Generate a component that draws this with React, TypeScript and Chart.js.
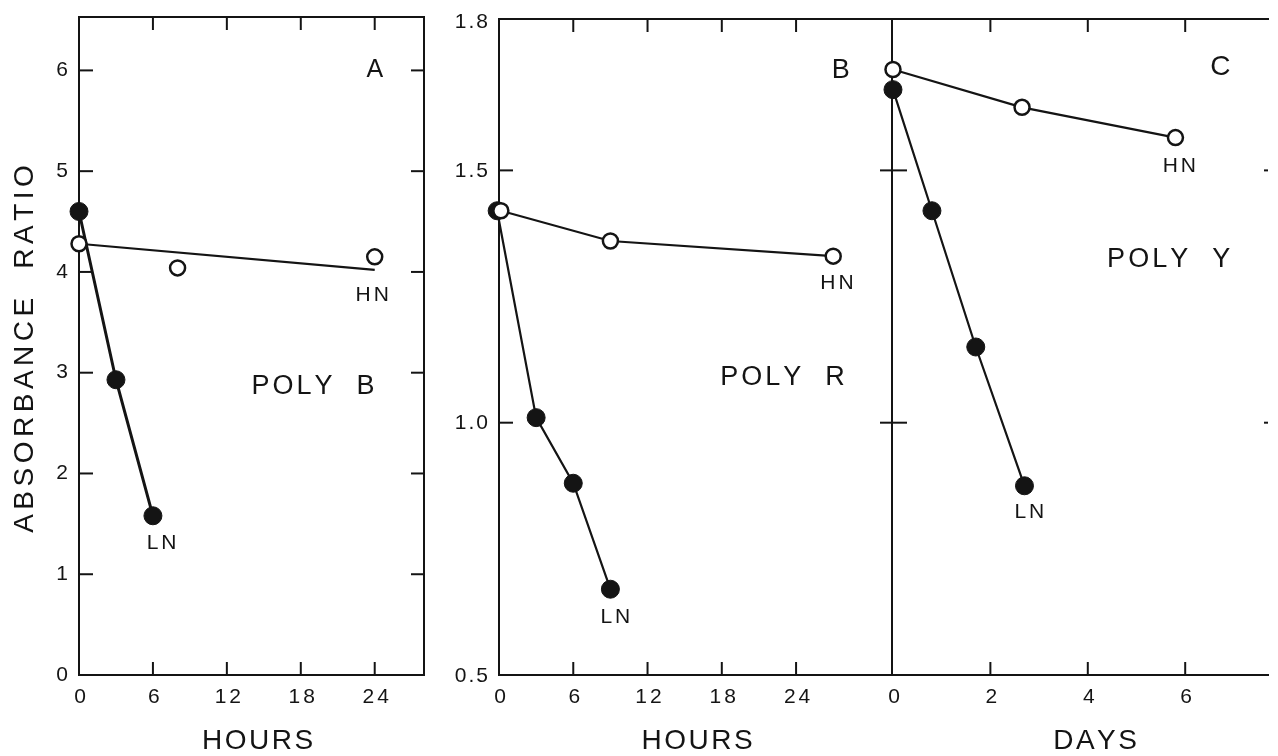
import React, { useEffect, useRef } from "react";
import { Chart, registerables } from "chart.js";

Chart.register(...registerables);

const W = 1278;
const H = 756;
const INK = "#141414";
const FONT = "'Liberation Sans', Arial, sans-serif";

// Panel A — POLY B, time in hours
const hoursA_LN = [0, 3, 6];
const ratioA_LN = [4.6, 2.93, 1.58];
const hoursA_HN = [0, 8, 24];
const ratioA_HN = [4.28, 4.04, 4.15];
const hoursA_HNfit = [0, 24];
const ratioA_HNfit = [4.28, 4.02];

// Panel B — POLY R, time in hours
const hoursB_LN = [-0.15, 3, 6, 9];
const ratioB_LN = [1.42, 1.01, 0.88, 0.67];
const hoursB_HN = [0.15, 9, 27];
const ratioB_HN = [1.42, 1.36, 1.33];

// Panel C — POLY Y, time in days
const daysC_LN = [0, 0.8, 1.7, 2.7];
const ratioC_LN = [1.66, 1.42, 1.15, 0.875];
const daysC_HN = [0, 2.65, 5.8];
const ratioC_HN = [1.7, 1.625, 1.565];

// Tick values and labels
const hourTicks = [0, 6, 12, 18, 24];
const dayTicks = [0, 2, 4, 6];
const ratioTicksA = [0, 1, 2, 3, 4, 5, 6];
const ratioTicksB = [0.5, 1.0, 1.5, 1.8];
const ratioTickLabelsB = ["0.5", "1.0", "1.5", "1.8"];

type Pt = { x: number; y: number };
const pts = (xs: number[], ys: number[]): Pt[] => xs.map((x, i) => ({ x, y: ys[i] }));

interface Note {
  text: string;
  x: number;
  y: number;
  size: number;
  spacing: number;
}

interface PanelSpec {
  pad: { left: number; top: number; right: number; bottom: number };
  xMin: number;
  xMax: number;
  yMin: number;
  yMax: number;
  sides: { left?: boolean; right?: boolean; top?: boolean; bottom?: boolean };
  xMarks: number[];
  yLeftMarks: number[];
  yLeftCross?: boolean;
  yRightMarks: number[];
  yRightLen: number;
  xLabels: { v: number; t: string }[];
  yLabels: { v: number; t: string; dy?: number }[];
  xTitle: { text: string; at: number };
  notes: Note[];
  yTitle?: boolean;
  datasets: any[];
}

function spaced(
  ctx: CanvasRenderingContext2D,
  text: string,
  x: number,
  y: number,
  spacing: number,
  align: "left" | "center" | "right"
) {
  const chars = Array.from(text);
  const widths = chars.map((c) => ctx.measureText(c).width);
  const total = widths.reduce((a, b) => a + b, 0) + spacing * (chars.length - 1);
  let cx = align === "center" ? x - total / 2 : align === "right" ? x - total : x;
  ctx.textAlign = "left";
  chars.forEach((c, i) => {
    ctx.fillText(c, cx, y);
    cx += widths[i] + spacing;
  });
}

function framePlugin(spec: PanelSpec) {
  return {
    id: "frame",
    beforeDatasetsDraw(chart: any) {
      const ctx: CanvasRenderingContext2D = chart.ctx;
      const { left, right, top, bottom } = chart.chartArea;
      const xs = chart.scales.x;
      const ys = chart.scales.y;
      ctx.save();
      ctx.strokeStyle = INK;
      ctx.lineWidth = 2;
      ctx.lineCap = "square";
      const line = (x1: number, y1: number, x2: number, y2: number) => {
        ctx.beginPath();
        ctx.moveTo(x1, y1);
        ctx.lineTo(x2, y2);
        ctx.stroke();
      };
      if (spec.sides.left) line(left, top, left, bottom);
      if (spec.sides.right) line(right, top, right, bottom);
      if (spec.sides.top) line(left, top, right, top);
      if (spec.sides.bottom) line(left, bottom, right, bottom);
      ctx.lineCap = "butt";
      spec.xMarks.forEach((v) => {
        const px = xs.getPixelForValue(v);
        line(px, top, px, top + 13);
        line(px, bottom, px, bottom - 13);
      });
      spec.yLeftMarks.forEach((v) => {
        const py = ys.getPixelForValue(v);
        if (spec.yLeftCross) line(left - 12, py, left + 15, py);
        else line(left, py, left + 14, py);
      });
      spec.yRightMarks.forEach((v) => {
        const py = ys.getPixelForValue(v);
        line(right, py, right - spec.yRightLen, py);
      });
      ctx.restore();
    },
    afterDraw(chart: any) {
      const ctx: CanvasRenderingContext2D = chart.ctx;
      const { left, bottom } = chart.chartArea;
      const xs = chart.scales.x;
      const ys = chart.scales.y;
      ctx.save();
      ctx.fillStyle = INK;
      ctx.textBaseline = "middle";
      ctx.font = `21px ${FONT}`;
      spec.xLabels.forEach(({ v, t }) => {
        spaced(ctx, t, xs.getPixelForValue(v) + 1, bottom + 22, 3, "center");
      });
      ctx.font = `21px ${FONT}`;
      spec.yLabels.forEach(({ v, t, dy }) => {
        spaced(ctx, t, left - 11, ys.getPixelForValue(v) + (dy || 0), 2, "right");
      });
      ctx.font = `28px ${FONT}`;
      spaced(ctx, spec.xTitle.text, xs.getPixelForValue(spec.xTitle.at), bottom + 66, 2.5, "center");
      spec.notes.forEach((n) => {
        ctx.font = `${n.size}px ${FONT}`;
        spaced(ctx, n.text, xs.getPixelForValue(n.x), ys.getPixelForValue(n.y), n.spacing, "center");
      });
      if (spec.yTitle) {
        ctx.save();
        ctx.translate(25, 349);
        ctx.rotate(-Math.PI / 2);
        ctx.font = `28px ${FONT}`;
        spaced(ctx, "ABSORBANCE  RATIO", 0, 0, 4.5, "center");
        ctx.restore();
      }
      ctx.restore();
    },
  };
}

const lnStyle = (width: number) => ({
  showLine: true,
  borderColor: INK,
  borderWidth: width,
  pointRadius: 9,
  pointBackgroundColor: INK,
  pointBorderColor: INK,
  pointBorderWidth: 1,
  clip: false,
});

const hnStyle = {
  showLine: true,
  borderColor: INK,
  borderWidth: 2.2,
  pointRadius: 7.5,
  pointBackgroundColor: "#ffffff",
  pointBorderColor: INK,
  pointBorderWidth: 2.5,
  clip: false,
};

const panels: PanelSpec[] = [
  {
    pad: { left: 79, top: 17, right: W - 424, bottom: H - 675 },
    xMin: 0,
    xMax: 28,
    yMin: 0,
    yMax: 6.53,
    sides: { left: true, right: true, top: true, bottom: true },
    xMarks: [6, 12, 18, 24],
    yLeftMarks: [1, 2, 3, 4, 5, 6],
    yRightMarks: [1, 2, 3, 4, 5, 6],
    yRightLen: 13,
    xLabels: hourTicks.map((v) => ({ v, t: String(v) })),
    yLabels: ratioTicksA.map((v) => ({ v, t: String(v) })),
    xTitle: { text: "HOURS", at: 14.5 },
    yTitle: true,
    notes: [
      { text: "A", x: 24, y: 6.0, size: 25, spacing: 0 },
      { text: "HN", x: 23.8, y: 3.77, size: 21, spacing: 3 },
      { text: "LN", x: 6.7, y: 1.31, size: 21, spacing: 3 },
      { text: "POLY  B", x: 19, y: 2.86, size: 27, spacing: 3 },
    ],
    datasets: [
      { data: pts(hoursA_HN, ratioA_HN), ...hnStyle, showLine: false },
      { data: pts(hoursA_HNfit, ratioA_HNfit), ...hnStyle, pointRadius: 0 },
      { data: pts(hoursA_LN, ratioA_LN), ...lnStyle(3) },
    ],
  },
  {
    pad: { left: 499, top: 19, right: W - 892, bottom: H - 675 },
    xMin: 0,
    xMax: 31.75,
    yMin: 0.5,
    yMax: 1.8,
    sides: { left: true, top: true, bottom: true },
    xMarks: [6, 12, 18, 24],
    yLeftMarks: [1.0, 1.5],
    yRightMarks: [],
    yRightLen: 0,
    xLabels: hourTicks.map((v) => ({ v, t: String(v) })),
    yLabels: ratioTicksB.map((v, i) => ({ v, t: ratioTickLabelsB[i], dy: v === 1.8 ? 3 : 1 })),
    xTitle: { text: "HOURS", at: 16 },
    notes: [
      { text: "B", x: 27.6, y: 1.698, size: 27, spacing: 0 },
      { text: "HN", x: 27.3, y: 1.276, size: 21, spacing: 3 },
      { text: "LN", x: 9.4, y: 0.615, size: 21, spacing: 3 },
      { text: "POLY  R", x: 22.9, y: 1.089, size: 27, spacing: 3 },
    ],
    datasets: [
      { data: pts(hoursB_HN, ratioB_HN), ...hnStyle },
      { data: pts(hoursB_LN, ratioB_LN), ...lnStyle(2.2) },
    ],
  },
  {
    pad: { left: 892, top: 19, right: 0, bottom: H - 675 },
    xMin: -0.02,
    xMax: 7.7,
    yMin: 0.5,
    yMax: 1.8,
    sides: { left: true, top: true, bottom: true },
    xMarks: [2, 4, 6],
    yLeftMarks: [1.0, 1.5],
    yLeftCross: true,
    yRightMarks: [1.0, 1.5],
    yRightLen: 4,
    xLabels: dayTicks.map((v) => ({ v, t: String(v) })),
    yLabels: [],
    xTitle: { text: "DAYS", at: 4.15 },
    notes: [
      { text: "C", x: 6.72, y: 1.705, size: 28, spacing: 0 },
      { text: "HN", x: 5.88, y: 1.508, size: 21, spacing: 3 },
      { text: "LN", x: 2.8, y: 0.823, size: 21, spacing: 3 },
      { text: "POLY  Y", x: 5.66, y: 1.323, size: 27, spacing: 3 },
    ],
    datasets: [
      { data: pts(daysC_HN, ratioC_HN), ...hnStyle },
      { data: pts(daysC_LN, ratioC_LN), ...lnStyle(2.2) },
    ],
  },
];

function Panel({ spec }: { spec: PanelSpec }) {
  const ref = useRef<HTMLCanvasElement | null>(null);
  useEffect(() => {
    if (!ref.current) return;
    const chart = new Chart(ref.current, {
      type: "scatter",
      data: { datasets: spec.datasets },
      options: {
        responsive: false,
        animation: false,
        devicePixelRatio: 1,
        events: [],
        layout: { padding: spec.pad },
        scales: {
          x: { type: "linear", min: spec.xMin, max: spec.xMax, display: false },
          y: { type: "linear", min: spec.yMin, max: spec.yMax, display: false },
        },
        plugins: { legend: { display: false }, tooltip: { enabled: false } },
      },
      plugins: [framePlugin(spec)],
    } as any);
    return () => chart.destroy();
  }, [spec]);
  return (
    <canvas
      ref={ref}
      width={W}
      height={H}
      style={{ position: "absolute", left: 0, top: 0, width: W, height: H }}
    />
  );
}

export default function App() {
  return (
    <div
      style={{
        position: "fixed",
        left: 0,
        top: 0,
        width: W,
        height: H,
        background: "#ffffff",
        overflow: "hidden",
      }}
    >
      {panels.map((p, i) => (
        <Panel key={i} spec={p} />
      ))}
    </div>
  );
}
